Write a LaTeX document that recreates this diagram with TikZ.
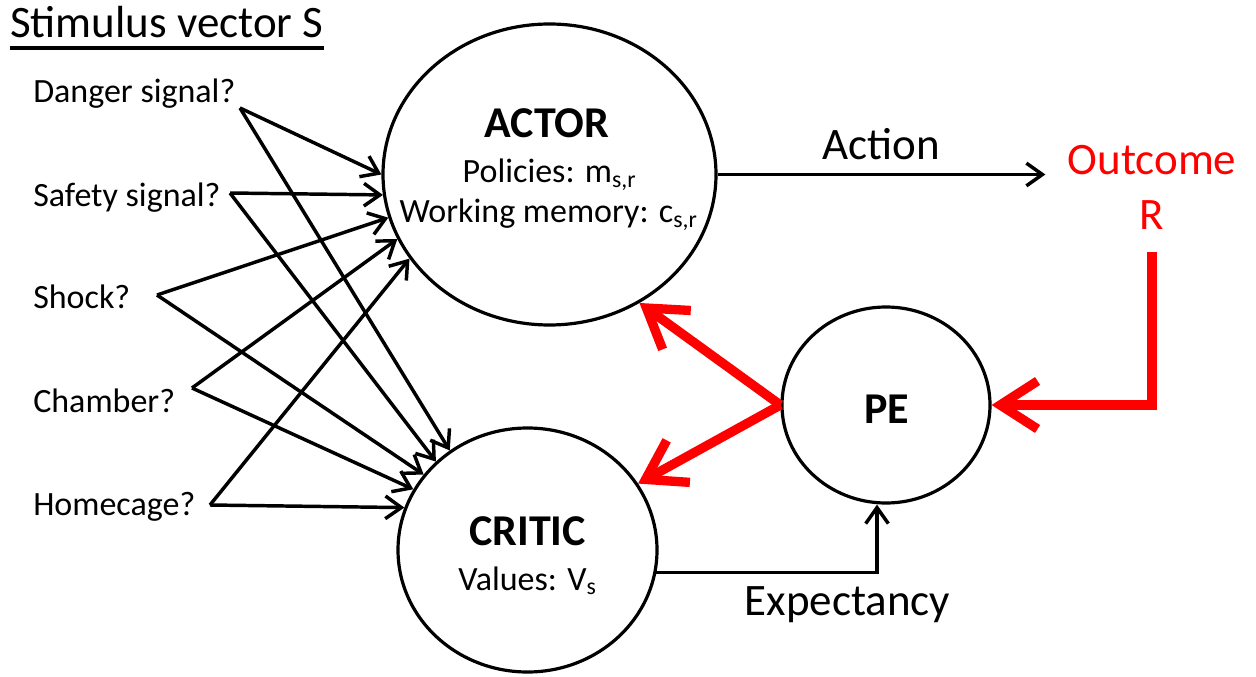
\documentclass[tikz,border=0pt]{standalone}
\usepackage{fontspec}
\setmainfont{Carlito}
\usetikzlibrary{shapes.geometric,arrows.meta}

\begin{document}
\begin{tikzpicture}[x=0.75pt, y=-0.75pt,
    lbl/.style={anchor=base west, inner sep=0pt, font=\fontsize{25.5}{30}\selectfont},
    body/.style={anchor=base, inner sep=0pt, font=\fontsize{25.5}{30}\selectfont},
    big/.style={inner sep=0pt, font=\fontsize{33.75}{41.25}\selectfont},
    head/.style={anchor=base, inner sep=0pt, font=\fontsize{33}{40}\selectfont\bfseries},
    unit/.style={draw, ellipse, line width=2.4pt, inner sep=0pt},
    arr/.style={line width=2.6pt, -{Straight Barb[length=12pt, width=17pt]}},
    redarr/.style={red, line width=7pt, line join=miter, -{Straight Barb[length=28pt, width=36pt]}}]
        \useasboundingbox (0,0) rectangle (1256,677);

        % Stimulus vector
        \node[big, anchor=base west] (title) at (10,38) {Stimulus vector S};
        \draw[line width=2.4pt] ([yshift=-7.5pt]title.base west) -- ([yshift=-7.5pt]title.base east);
        \node[lbl] (danger) at (33,103) {Danger signal?};
        \node[lbl] (safety) at (33,207) {Safety signal?};
        \node[lbl] (shock) at (33,308) {Shock?};
        \node[lbl] (chamber) at (33,412) {Chamber?};
        \node[lbl] (home) at (33,515) {Homecage?};
        \coordinate (dng) at (240,108);
        \coordinate (saf) at (230,193);
        \coordinate (shk) at (157,295);
        \coordinate (chb) at (192,388);
        \coordinate (hom) at (210,505);

        % Actor, critic and PE
        \node[unit, minimum width=249.75pt, minimum height=225.75pt] (actor) at (549.5,174.5) {};
        \node[unit, minimum width=194.25pt, minimum height=183pt] (critic) at (527.5,550) {};
        \node[unit, minimum width=156pt, minimum height=147pt] (pe) at (886,405) {};
        \node[head] (actorT) at (547,138) {ACTOR};
        \node[body] (pol) at (549.5,183) {Policies: m\textsubscript{s,r}};
        \node[body] (wm) at (548.5,223) {Working memory: c\textsubscript{s,r}};
        \node[head] (criticT) at (527.5,545) {CRITIC};
        \node[body] (val) at (527.5,590) {Values: V\textsubscript{s}};
        \node[head] (peT) at (887,423) {PE};

        % Inputs
        \foreach \src/\a/\c in {dng/180/128, saf/187/136, shk/195/144, chb/203/152, hom/211/161} {
            \draw[arr] (\src) -- (actor.\a);
            \draw[arr] (\src) -- (critic.\c);
        }

        % Action and outcome
        \node[big, red, align=center, inner sep=16.5pt] (outcome) at (1152,187.5) {Outcome\\R};
        \draw[arr] (actor.east) -- node[big, midway, above=9.75pt] (action) {Action} (actor.east -| outcome.west);

        % Expectancy
        \draw[arr] (critic.-10) -| ([xshift=-6.75pt]pe.south);
        \node[big, anchor=base] (expect) at (847.5,615) {Expectancy};

        % Prediction error
        \draw[redarr] (outcome.south) |- (pe.east);
        \draw[redarr] (pe.west) -- (actor.-55);
        \draw[redarr] (pe.west) -- (critic.31);
\end{tikzpicture}
\end{document}
